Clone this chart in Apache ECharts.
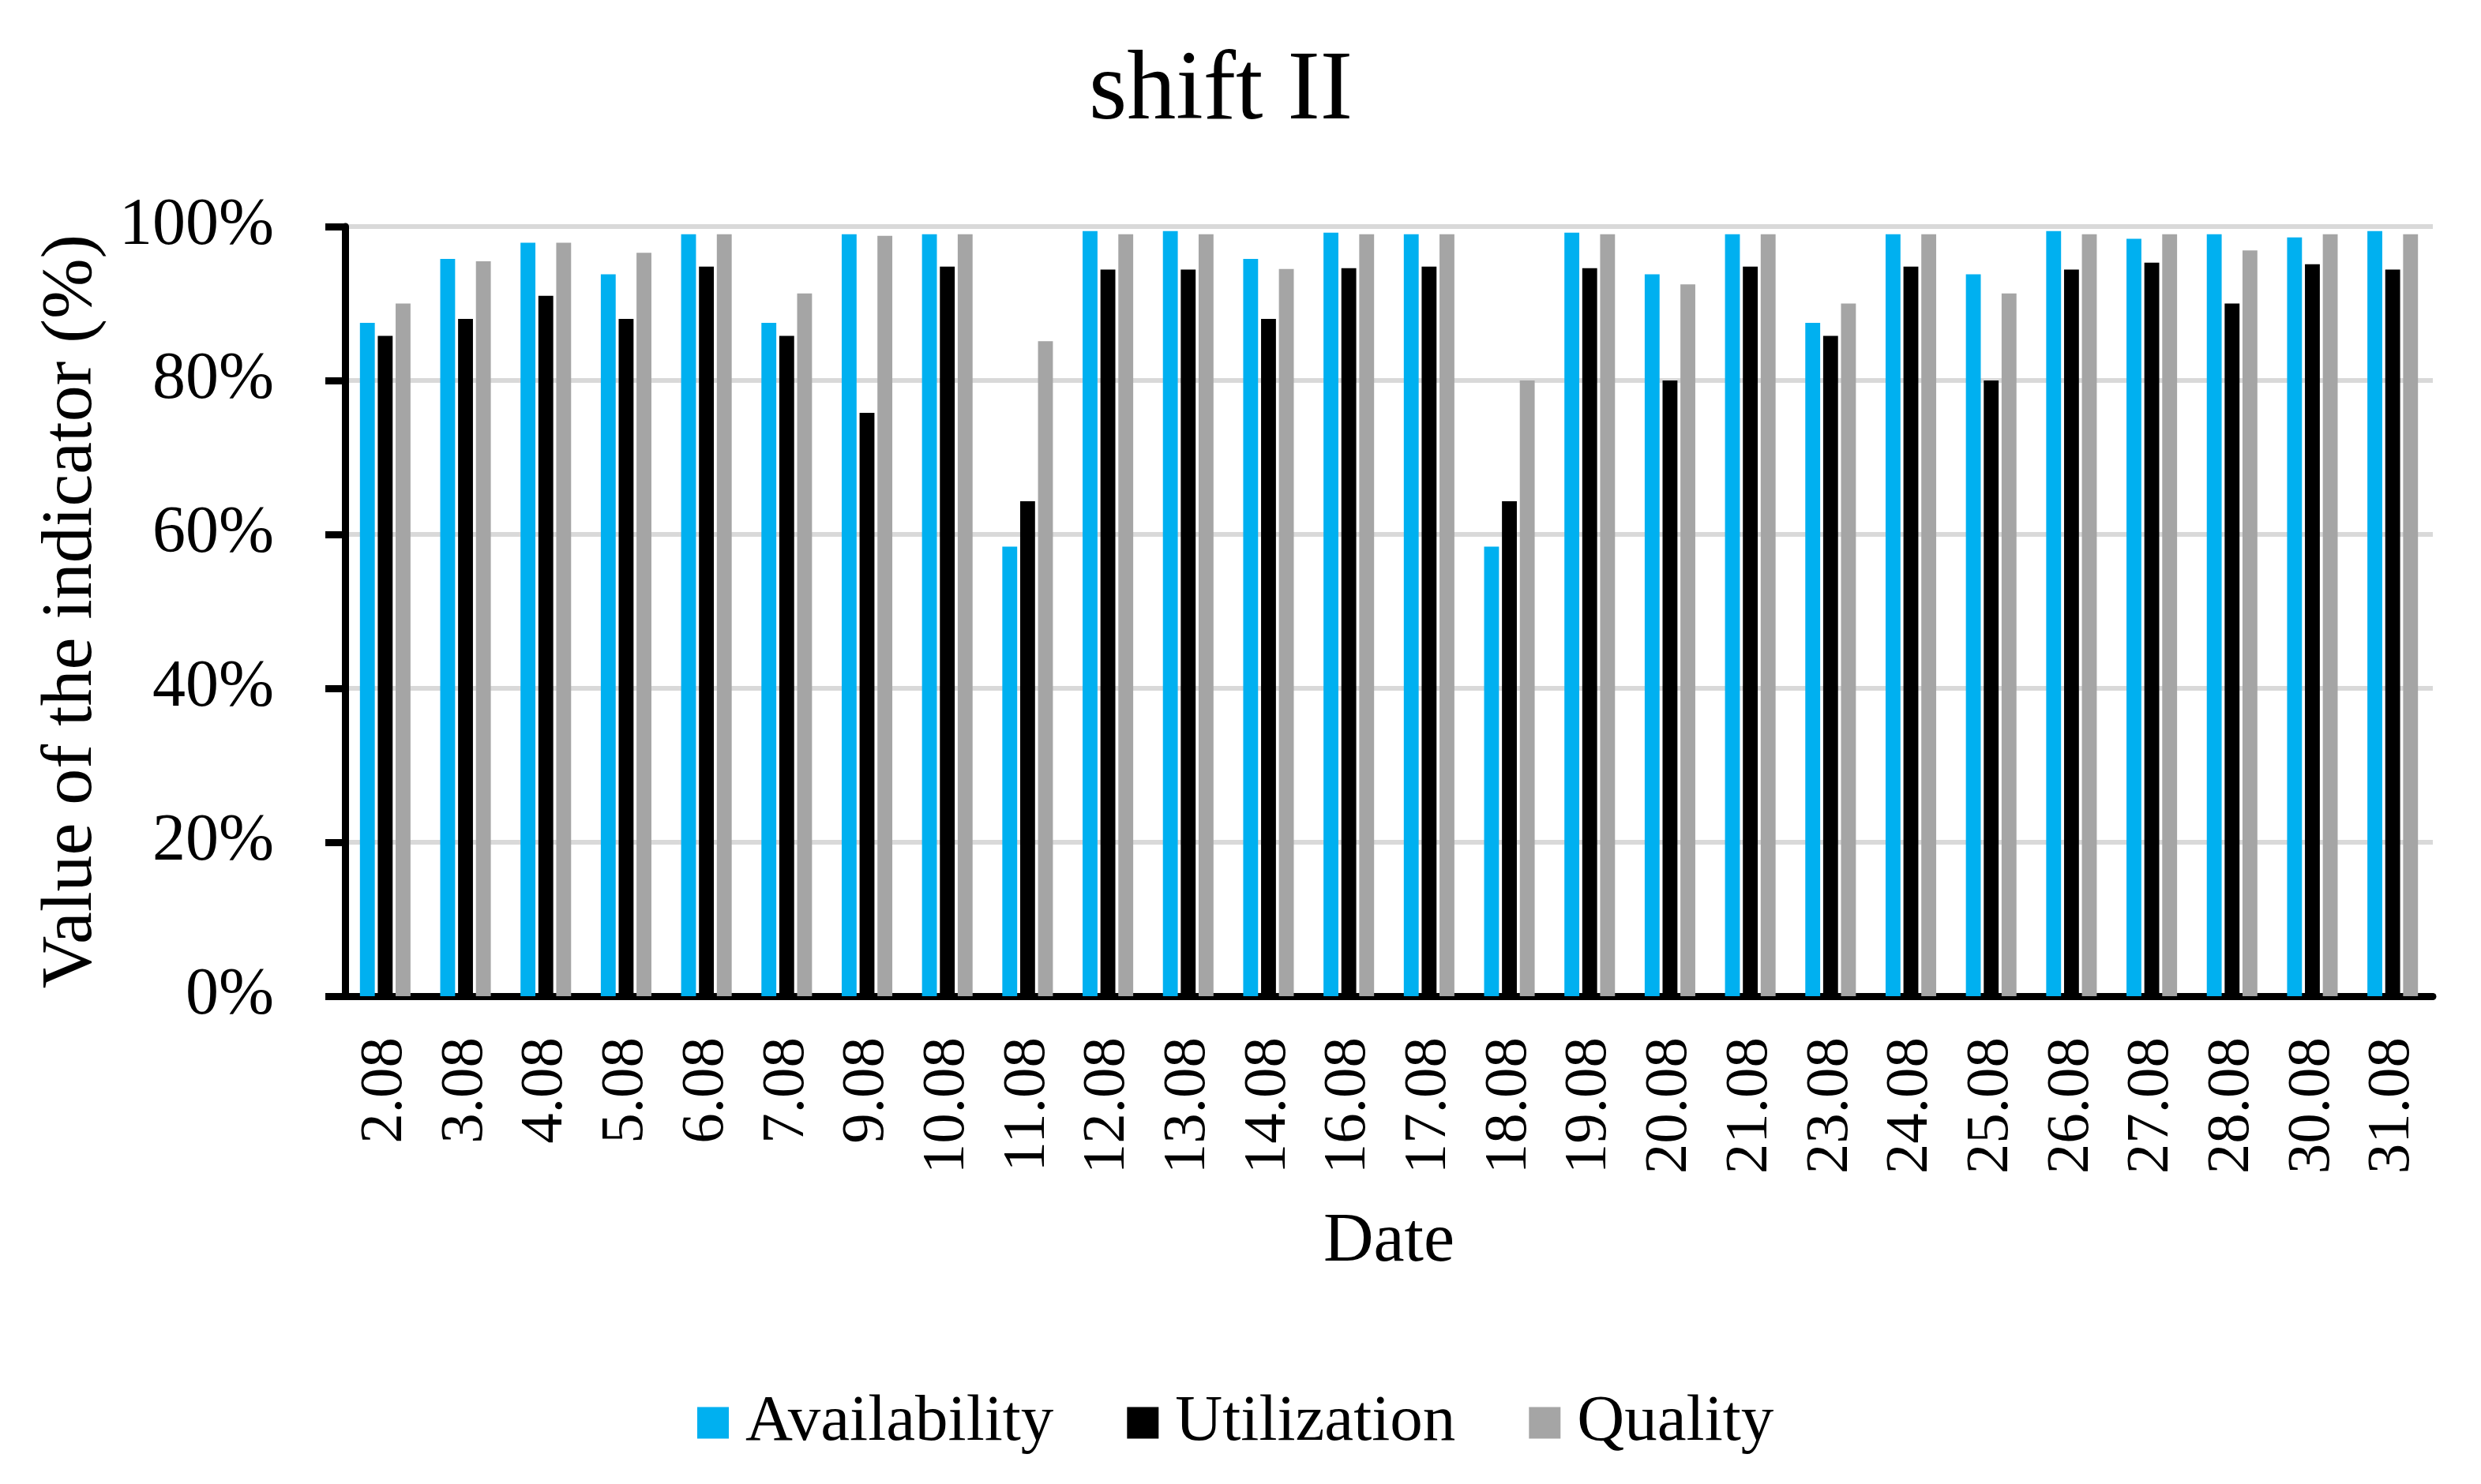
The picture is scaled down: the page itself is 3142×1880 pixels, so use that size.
<!DOCTYPE html>
<html>
<head>
<meta charset="utf-8">
<title>shift II</title>
<script src="https://cdn.jsdelivr.net/npm/echarts@6/dist/echarts.min.js"></script>
<style>
  html, body { margin: 0; padding: 0; background: #fff; }
  #chart { width: 3142px; height: 1880px; }
</style>
</head>
<body>
<div id="chart"></div>
<script>
// dates on the x axis
var dates = ['2.08', '3.08', '4.08', '5.08', '6.08', '7.08', '9.08', '10.08', '11.08',
  '12.08', '13.08', '14.08', '16.08', '17.08', '18.08', '19.08', '20.08', '21.08',
  '23.08', '24.08', '25.08', '26.08', '27.08', '28.08', '30.08', '31.08'];

// indicator values, in percent
var availability = [87.5, 95.8, 97.9, 93.8, 99.0, 87.5, 99.0, 99.0, 58.4, 99.4, 99.4, 95.8, 99.2,
  99.0, 58.4, 99.2, 93.8, 99.0, 87.5, 99.0, 93.8, 99.4, 98.4, 99.0, 98.6, 99.4];
var utilization = [85.8, 88.0, 91.0, 88.0, 94.8, 85.8, 75.8, 94.8, 64.3, 94.4, 94.4, 88.0, 94.6,
  94.8, 64.3, 94.6, 80.0, 94.8, 85.8, 94.8, 80.0, 94.4, 95.3, 90.0, 95.1, 94.4];
var quality = [90.0, 95.5, 97.9, 96.6, 99.0, 91.3, 98.8, 99.0, 85.1, 99.0, 99.0, 94.5, 99.0,
  99.0, 80.0, 99.0, 92.5, 99.0, 90.0, 99.0, 91.3, 99.0, 99.0, 96.9, 99.0, 99.0];

var yTicks = [0, 20, 40, 60, 80, 100];

var FONT = 'Liberation Serif';

var chart = echarts.init(document.getElementById('chart'));

function bar(name, data, color) {
  return {
    name: name,
    type: 'bar',
    data: data,
    barGap: '20%',
    barCategoryGap: '37%',
    itemStyle: { color: color }
  };
}

chart.setOption({
  animation: false,
  textStyle: { fontFamily: FONT, color: '#000' },
  title: {
    text: 'shift II',
    left: 1374,
    top: 50,
    textStyle: { fontFamily: FONT, fontSize: 124, fontWeight: 'normal', color: '#000' }
  },
  legend: {
    left: 878,
    top: 1756,
    itemWidth: 40,
    itemHeight: 40,
    itemGap: 93,
    icon: 'rect',
    textStyle: { fontFamily: FONT, fontSize: 83, color: '#000', padding: [0, 0, 0, 16] }
  },
  grid: { left: 437, right: 61, top: 287, bottom: 618 },
  xAxis: {
    type: 'category',
    data: dates,
    name: 'Date',
    nameLocation: 'middle',
    nameGap: 268,
    nameTextStyle: { fontFamily: FONT, fontSize: 88, color: '#000' },
    axisLine: { lineStyle: { color: '#000', width: 9 } },
    axisTick: { length: 22, lineStyle: { color: '#000', width: 9 } },
    axisLabel: { rotate: 90, margin: 52, fontFamily: FONT, fontSize: 77, color: '#000' }
  },
  yAxis: {
    type: 'value',
    min: yTicks[0],
    max: yTicks[yTicks.length - 1],
    interval: 20,
    name: 'Value of the indicator (%)',
    nameLocation: 'middle',
    nameGap: 300,
    nameTextStyle: { fontFamily: FONT, fontSize: 92, color: '#000' },
    axisLine: { show: true, lineStyle: { color: '#000', width: 9 } },
    axisTick: { show: true, length: 25, lineStyle: { color: '#000', width: 9 } },
    axisLabel: { margin: 90, fontFamily: FONT, fontSize: 84, color: '#000', formatter: '{value}%' },
    splitLine: { lineStyle: { color: '#d9d9d9', width: 6 } }
  },
  series: [
    bar('Availability', availability, '#00b0f0'),
    bar('Utilization', utilization, '#000000'),
    bar('Quality', quality, '#a5a5a5')
  ]
});
</script>
</body>
</html>
